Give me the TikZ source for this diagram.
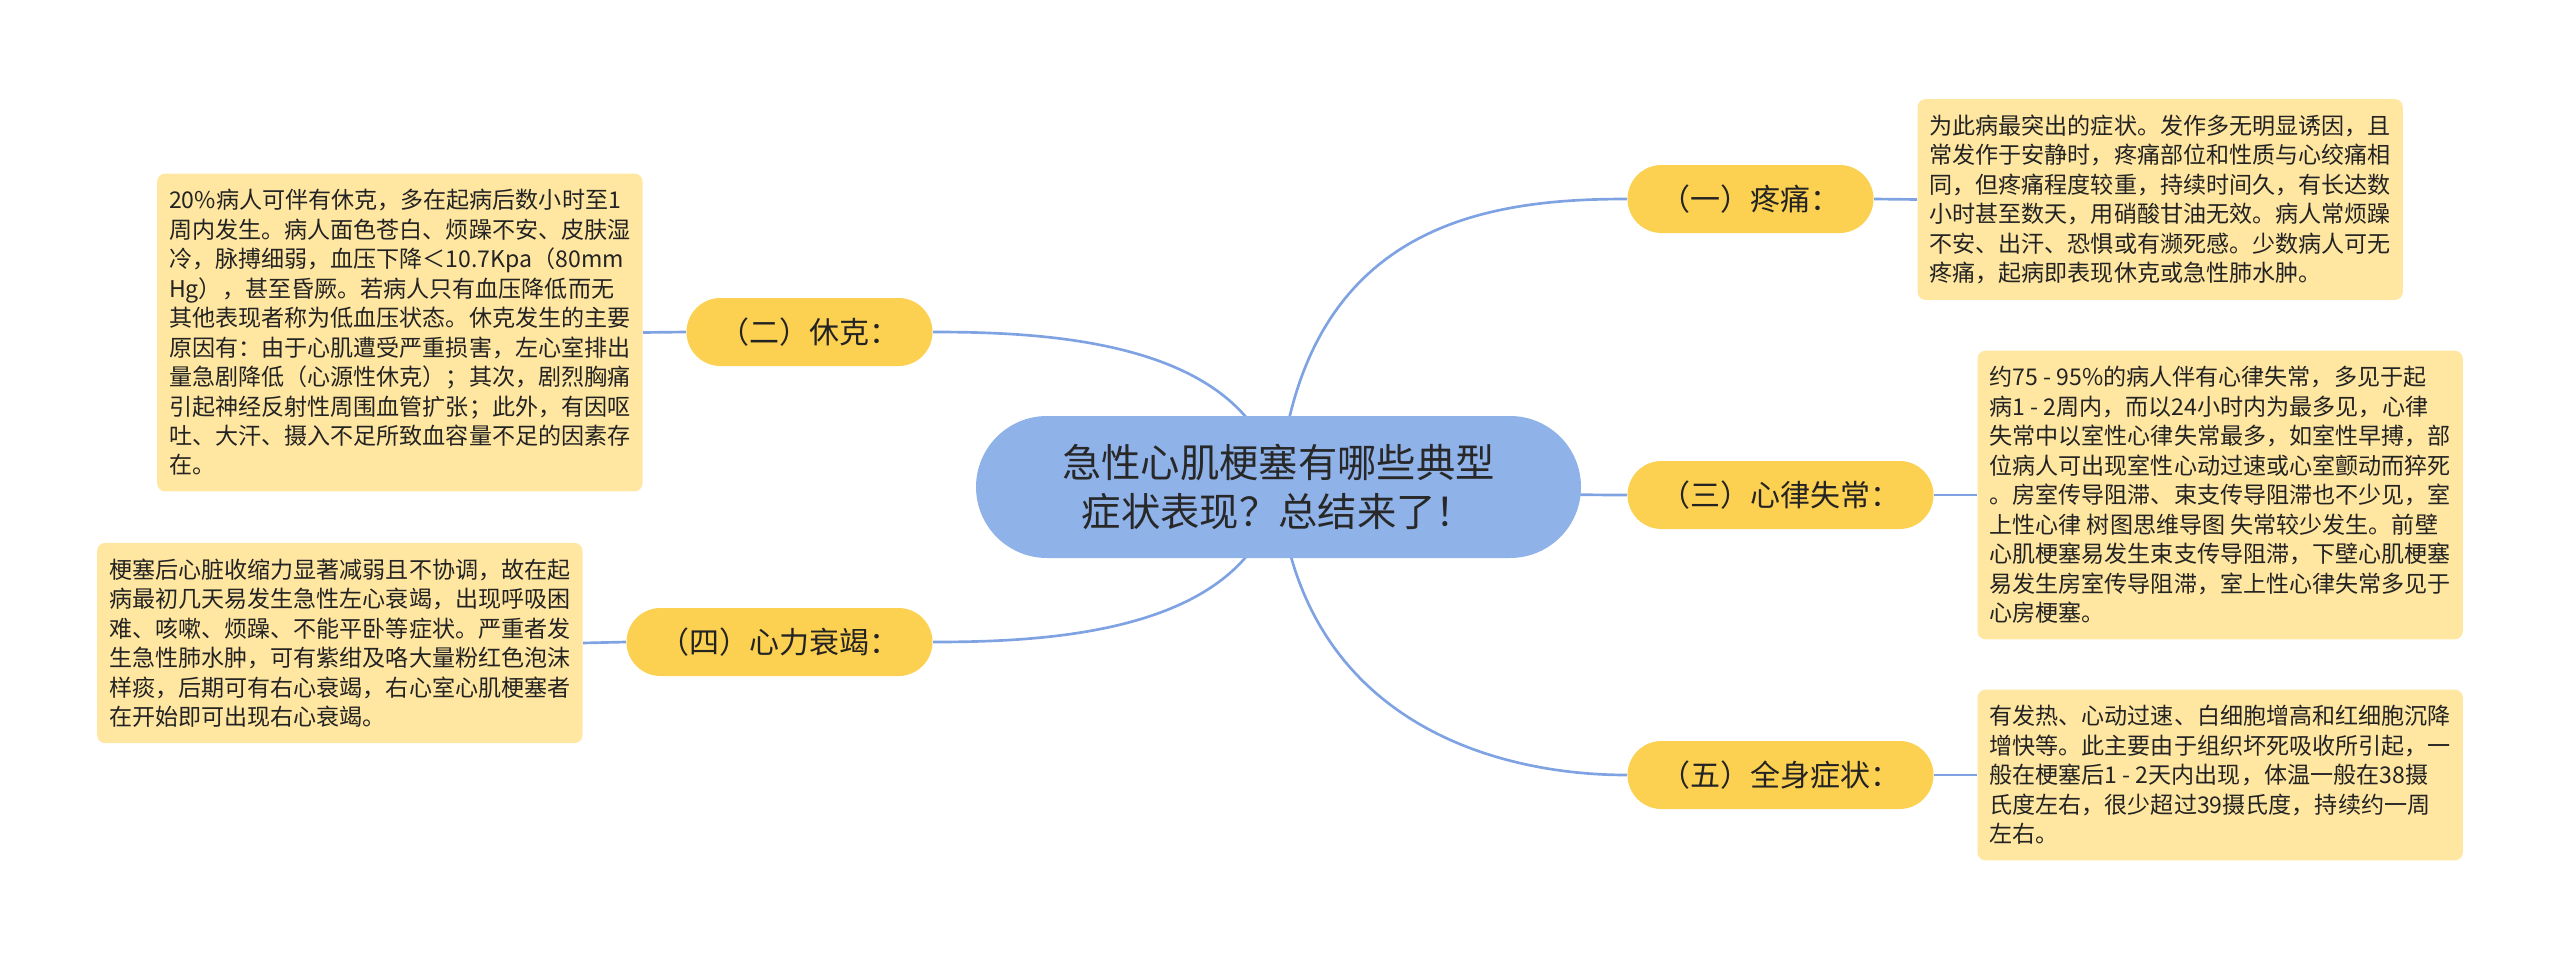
\documentclass[tikz,border=0pt]{standalone}
\usepackage{fontspec}
\setmainfont{Noto Sans CJK SC}
\usetikzlibrary{backgrounds}

\tikzset{every picture/.style={line width=0.75pt}}
\tikzset{
  topic/.style={rectangle, rounded corners=53.25pt, minimum width=453.75pt, minimum height=106.5pt, inner sep=0pt, align=center,
    fill={rgb, 255:red, 143; green, 178; blue, 233 }, text={rgb, 255:red, 40; green, 40; blue, 40 },
    font=\fontsize{29.5pt}{36.8pt}\selectfont},
  branch/.style={rectangle, rounded corners=25.5pt, minimum height=51pt, inner xsep=24.75pt, inner ysep=0pt,
    fill={rgb, 255:red, 252; green, 208; blue, 80 }, text={rgb, 255:red, 35; green, 35; blue, 35 },
    font=\fontsize{22.5pt}{27pt}\selectfont},
  note/.style={rectangle, rounded corners=6pt, inner xsep=9pt, inner ysep=11.8pt, align=left,
    fill={rgb, 255:red, 255; green, 231; blue, 162 }, text={rgb, 255:red, 35; green, 35; blue, 35 },
    font=\fontsize{17.3pt}{22.1pt}\selectfont},
  link/.style={draw={rgb, 255:red, 127; green, 163; blue, 226 }, line width=2pt}
}

\begin{document}
\begin{tikzpicture}[x=0.75pt,y=0.75pt,yscale=-1,xscale=1]
\useasboundingbox (0,0) rectangle (2560,960);

%Shape: Rounded Rect [id:center]
\node [topic] (c) at (1278.5,487) {急性心肌梗塞有哪些典型\\症状表现？总结来了！};

%Shape: Rounded Rect [id:branches]
\node [branch, anchor=west] (p1) at (1627,199) {（一）疼痛：};
\node [branch, anchor=east] (p2) at (933,332) {（二）休克：};
\node [branch, anchor=west] (p3) at (1627,495) {（三）心律失常：};
\node [branch, anchor=east] (p4) at (933,642) {（四）心力衰竭：};
\node [branch, anchor=west] (p5) at (1627,775) {（五）全身症状：};

% Text Node
\node [note, anchor=west] (d1) at (1917,199.5) {为此病最突出的症状。发作多无明显诱因，且\\
常发作于安静时，疼痛部位和性质与心绞痛相\\
同，但疼痛程度较重，持续时间久，有长达数\\
小时甚至数天，用硝酸甘油无效。病人常烦躁\\
不安、出汗、恐惧或有濒死感。少数病人可无\\
疼痛，起病即表现休克或急性肺水肿。};
% Text Node
\node [note, anchor=east] (d2) at (643,332.5) {20\%病人可伴有休克，多在起病后数小时至1\\
周内发生。病人面色苍白、烦躁不安、皮肤湿\\
冷，脉搏细弱，血压下降＜10.7Kpa（80mm\\
Hg），甚至昏厥。若病人只有血压降低而无\\
其他表现者称为低血压状态。休克发生的主要\\
原因有：由于心肌遭受严重损害，左心室排出\\
量急剧降低（心源性休克）；其次，剧烈胸痛\\
引起神经反射性周围血管扩张；此外，有因呕\\
吐、大汗、摄入不足所致血容量不足的因素存\\
在。};
% Text Node
\node [note, anchor=west] (d3) at (1977,495) {约75 - 95\%的病人伴有心律失常，多见于起\\
病1 - 2周内，而以24小时内为最多见，心律\\
失常中以室性心律失常最多，如室性早搏，部\\
位病人可出现室性心动过速或心室颤动而猝死\\
。房室传导阻滞、束支传导阻滞也不少见，室\\
上性心律 树图思维导图 失常较少发生。前壁\\
心肌梗塞易发生束支传导阻滞，下壁心肌梗塞\\
易发生房室传导阻滞，室上性心律失常多见于\\
心房梗塞。};
% Text Node
\node [note, anchor=east] (d4) at (583,643) {梗塞后心脏收缩力显著减弱且不协调，故在起\\
病最初几天易发生急性左心衰竭，出现呼吸困\\
难、咳嗽、烦躁、不能平卧等症状。严重者发\\
生急性肺水肿，可有紫绀及咯大量粉红色泡沫\\
样痰，后期可有右心衰竭，右心室心肌梗塞者\\
在开始即可出现右心衰竭。};
% Text Node
\node [note, anchor=west] (d5) at (1977,775) {有发热、心动过速、白细胞增高和红细胞沉降\\
增快等。此主要由于组织坏死吸收所引起，一\\
般在梗塞后1 - 2天内出现，体温一般在38摄\\
氏度左右，很少超过39摄氏度，持续约一周\\
左右。};

%Curve Lines [id:links]
\begin{scope}[on background layer]
\draw [link] (c.center) to[out=-85,in=180,out looseness=1.5,in looseness=0.8] (p1.west);
\draw [link] (c.center) to[out=-100,in=0,out looseness=1,in looseness=0.8] (p2.east);
\draw [link] (c.center) to[out=0,in=180] (p3.west);
\draw [link] (c.center) to[out=100,in=0,out looseness=1,in looseness=0.8] (p4.east);
\draw [link] (c.center) to[out=85,in=180,out looseness=1.3,in looseness=0.8] (p5.west);
%Straight Lines
\draw [link] (p1.east) -- (d1.west);
\draw [link] (p2.west) -- (d2.east);
\draw [link] (p3.east) -- (d3.west);
\draw [link] (p4.west) -- (d4.east);
\draw [link] (p5.east) -- (d5.west);
\end{scope}

\end{tikzpicture}
\end{document}
